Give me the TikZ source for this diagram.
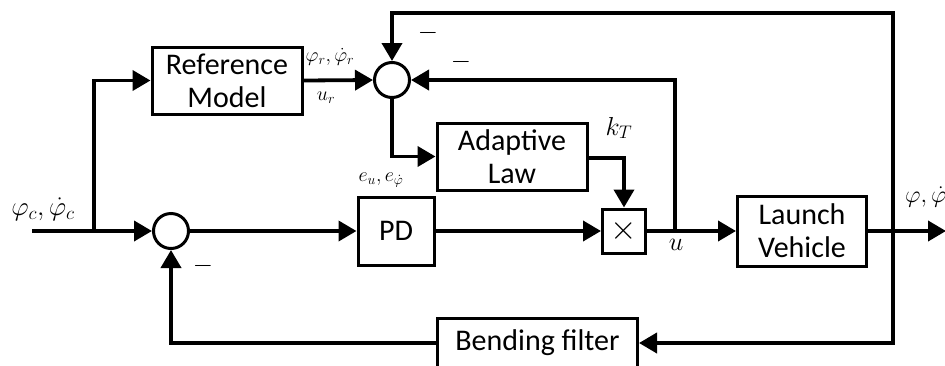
\documentclass[tikz,border=0pt]{standalone}
\usepackage{fix-cm}
\usepackage{fontspec}
\setmainfont{Carlito}
\usetikzlibrary{arrows.meta}
\begin{document}
\begin{tikzpicture}[x=1pt,y=-1pt,
  blk/.style={draw,line width=3pt,rectangle,align=center,inner sep=0pt,
    font=\fontsize{30}{33}\selectfont},
  sumc/.style={draw,line width=3pt,circle,minimum size=35pt,inner sep=0pt},
  conn/.style={line width=3.8pt},
  arr/.style={conn,-{Triangle[length=18pt,width=20pt]}},
  lbl/.style={inner sep=0pt,font=\fontsize{20}{22}\selectfont},
  lblL/.style={inner sep=0pt,font=\fontsize{26}{28}\selectfont}]
\useasboundingbox (0,0) rectangle (945,365);
% blocks
\node[blk,minimum width=150pt,minimum height=67pt] (ref) at (227,80.5) {Reference\\Model};
\node[sumc] (sumT) at (392,80) {};
\node[sumc] (sumB) at (171,231) {};
\node[blk,minimum width=76pt,minimum height=68pt] (pd) at (396,231) {PD};
\node[blk,minimum width=150pt,minimum height=67pt] (adapt) at (512,156.5) {Adaptive\\Law};
\node[blk,minimum width=43pt,minimum height=44pt,font=\fontsize{34}{36}\selectfont] (mult) at (624,231) {$\times$};
\node[blk,minimum width=129pt,minimum height=70pt] (lv) at (802,231) {Launch\\Vehicle};
\node[blk,minimum width=200pt,minimum height=50pt] (bf) at (537.5,343) {Bending filter};
% coordinates
\coordinate (in) at (32,231);
\coordinate (br) at (94,231);
\coordinate (ub) at (675,231);
\coordinate (ob) at (893,231);
\coordinate (out) at (946,231);
\coordinate (topr) at (893,13);
\coordinate (topl) at (392,13);
\coordinate (ut) at (675,80);
% connectors
\draw[arr] (in) -- (sumB.west);
\draw[arr] (br) |- (ref.west);
\draw[arr] (ref.east) -- (sumT.west);
\draw[arr] (sumB.east) -- (pd.west);
\draw[arr] (pd.east) -- (mult.west);
\draw[arr] (mult.east) -- (lv.west);
\draw[arr] (lv.east) -- (out);
\draw[arr] (ob) -- (topr) -- (topl) -- (sumT.north);
\draw[arr] (ob) |- (bf.east);
\draw[arr] (bf.west) -| (sumB.south);
\draw[arr] (ub) -- (ut) -- (sumT.east);
\draw[arr] (sumT.south) |- (adapt.west);
\draw[arr] ([yshift=-1.5pt]adapt.east) -| (mult.north);
% labels
\node[lbl] (l1) at (330,57) {$\varphi_r,\dot\varphi_r$};
\node[lbl] (l2) at (326,98) {$u_r$};
\node[lbl] (l3) at (381,180) {$e_u,e_{\dot\varphi}$};
\node[lbl,font=\fontsize{27}{29}\selectfont] (l4) at (43,209) {$\varphi_c,\dot\varphi_c$};
\node[lblL] (l5) at (619,128) {$k_T$};
\node[lblL] (l6) at (676,245) {$u$};
\node[lbl,font=\fontsize{24}{26}\selectfont,anchor=west] (l7) at (905,197) {$\varphi,\dot\varphi$};
\node[lblL] (m1) at (428,33) {$-$};
\node[lblL] (m2) at (461,62) {$-$};
\node[lblL] (m3) at (203,266) {$-$};
\end{tikzpicture}
\end{document}
